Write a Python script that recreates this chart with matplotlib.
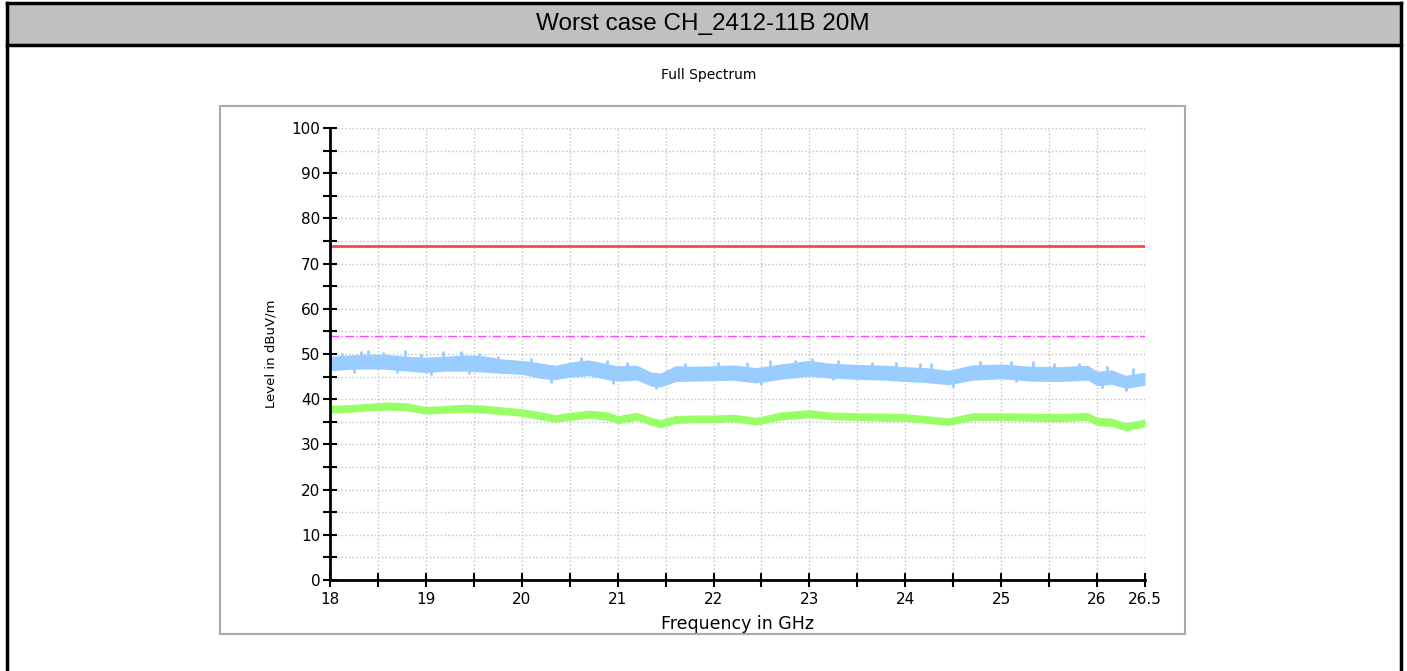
import numpy as np
import matplotlib
matplotlib.use("Agg")
import matplotlib.pyplot as plt
from matplotlib.patches import Rectangle
from matplotlib.lines import Line2D
from matplotlib.ticker import MultipleLocator, FixedLocator

# envelope knots (GHz)
freq = [18.0, 18.2, 18.4, 18.6, 18.8, 19.0, 19.2, 19.4, 19.6, 19.8, 20.0, 20.2,
        20.35, 20.5, 20.7, 20.9, 21.0, 21.2, 21.35, 21.45, 21.6, 21.8, 22.0, 22.2,
        22.45, 22.7, 23.0, 23.2, 23.5, 23.8, 24.0, 24.2, 24.45, 24.7, 25.0, 25.3,
        25.6, 25.9, 26.0, 26.15, 26.3, 26.5]

# peak trace (light blue band), dBuV/m
peak_hi = [49.5, 49.8, 50.0, 49.9, 49.5, 49.3, 49.5, 49.8, 49.6, 48.9, 48.6, 48.0,
           47.5, 48.2, 48.7, 47.8, 47.4, 47.5, 46.0, 45.8, 47.4, 47.3, 47.4, 47.6,
           47.0, 47.8, 48.6, 48.0, 47.7, 47.5, 47.2, 47.0, 46.4, 47.6, 47.8, 47.3,
           47.2, 47.5, 46.2, 46.5, 45.3, 46.0]
peak_lo = [46.3, 46.6, 46.7, 46.6, 46.2, 45.9, 46.2, 46.2, 46.0, 45.7, 45.5, 44.6,
           44.3, 44.9, 45.2, 44.3, 44.0, 44.2, 42.9, 42.7, 43.9, 44.0, 44.1, 44.2,
           43.6, 44.4, 45.1, 44.7, 44.4, 44.2, 43.9, 43.7, 43.2, 44.2, 44.5, 44.0,
           43.9, 44.2, 43.0, 43.3, 42.4, 43.1]

# visible noise spikes along the edges of the peak trace
spike_freq = [18.12, 18.32, 18.40, 18.55, 18.78, 18.95, 19.18, 19.37, 19.55, 19.75,
              20.1, 20.62, 20.89, 21.1, 21.7, 22.05, 22.35, 22.59, 22.85, 23.03,
              23.3, 23.65, 23.9, 24.15, 24.27, 24.78, 25.1, 25.33, 25.55, 25.81,
              26.1, 26.38]
spike_top = [50.2, 50.6, 50.9, 50.5, 50.9, 50.1, 50.6, 50.6, 50.3, 49.6,
             49.2, 49.4, 48.7, 48.3, 48.0, 48.2, 48.3, 48.7, 48.6, 49.1,
             48.6, 48.3, 48.2, 48.1, 48.1, 48.4, 48.4, 48.4, 48.0, 48.1,
             47.3, 46.8]
dip_freq = [18.25, 18.7, 19.05, 19.45, 20.3, 20.95, 21.4, 22.5, 23.25, 24.5, 25.15, 26.05, 26.3]
dip_bottom = [45.8, 45.9, 45.4, 45.6, 43.6, 43.4, 42.3, 43.1, 44.2, 42.8, 43.8, 42.4, 41.9]

# average trace (green band)
avg_hi = [38.7, 38.8, 39.1, 39.4, 39.2, 38.4, 38.6, 38.9, 38.7, 38.3, 37.9, 37.2,
          36.6, 37.1, 37.6, 37.2, 36.4, 37.1, 36.0, 35.5, 36.4, 36.5, 36.5, 36.7,
          36.0, 37.2, 37.7, 37.2, 37.0, 36.9, 36.8, 36.4, 35.9, 37.0, 37.0, 36.9,
          36.8, 37.1, 36.0, 35.8, 34.8, 35.6]
avg_lo = [36.9, 37.1, 37.4, 37.6, 37.4, 36.7, 36.9, 37.1, 36.9, 36.6, 36.2, 35.4,
          34.9, 35.3, 35.8, 35.3, 34.6, 35.3, 34.2, 33.7, 34.6, 34.8, 34.8, 35.0,
          34.3, 35.4, 35.9, 35.5, 35.3, 35.1, 35.1, 34.7, 34.2, 35.3, 35.3, 35.1,
          35.0, 35.3, 34.1, 34.0, 33.0, 33.9]

peak_limit = 74
avg_limit = 54

x_major = [18, 19, 20, 21, 22, 23, 24, 25, 26, 26.5]
x_labels = ["18", "19", "20", "21", "22", "23", "24", "25", "26", "26.5"]

W, H = 1407, 671
fig = plt.figure(figsize=(W / 100, H / 100), dpi=100)


def px_rect(x0, y0, x1, y1, **kw):
    # rectangle in pixel coords (top-left origin)
    return Rectangle((x0 / W, 1 - y1 / H), (x1 - x0) / W, (y1 - y0) / H,
                     transform=fig.transFigure, **kw)


def px_line(xs, ys, **kw):
    return Line2D([x / W for x in xs], [1 - y / H for y in ys],
                  transform=fig.transFigure, **kw)


# title band and outer frame
fig.add_artist(px_rect(7, 3, 1401, 45, facecolor="#c0c0c0", edgecolor="none"))
fig.add_artist(px_line([7, 1401], [3, 3], color="black", lw=2.5))
fig.add_artist(px_line([7, 1401], [45, 45], color="black", lw=2.5))
fig.add_artist(px_line([7, 7], [3, H], color="black", lw=2.5))
fig.add_artist(px_line([1401, 1401], [3, H], color="black", lw=2.5))
fig.text(703 / W, 1 - 24 / H, "Worst case CH_2412-11B 20M", ha="center", va="center",
         fontsize=17.5, family="Liberation Sans")

# chart panel
fig.add_artist(px_rect(220, 106, 1185, 634, facecolor="none", edgecolor="#aaaaaa", lw=1.5))
fig.text(709 / W, 1 - 75 / H, "Full Spectrum", ha="center", va="center", fontsize=10)

ax = fig.add_axes([330 / W, 1 - 580 / H, 815 / W, 452 / H])
ax.fill_between(freq, peak_lo, peak_hi, color="#99ccff", lw=0, zorder=3)
# spikes start inside the band so they stay attached to it
ax.vlines(spike_freq, [h - 3 for h in spike_top], spike_top, color="#99ccff", lw=2, zorder=3)
ax.vlines(dip_freq, dip_bottom, [b + 3 for b in dip_bottom], color="#99ccff", lw=2, zorder=3)
ax.fill_between(freq, avg_lo, avg_hi, color="#99ff66", lw=0, zorder=3)
ax.axhline(peak_limit, color="#ff4444", lw=2, zorder=4)
ax.axhline(avg_limit, color="#ff44ff", lw=1, ls="-.", zorder=4)

ax.set_xlim(18, 26.5)
ax.set_ylim(0, 100)
ax.xaxis.set_major_locator(FixedLocator(x_major))
ax.set_xticklabels(x_labels)
ax.xaxis.set_minor_locator(FixedLocator(np.arange(18.5, 26.0, 1.0)))
ax.yaxis.set_major_locator(MultipleLocator(10))
ax.yaxis.set_minor_locator(MultipleLocator(5))
ax.grid(True, which="both", color="#c0c0c0", ls=":", lw=1)
ax.set_axisbelow(True)

for s in ["top", "right"]:
    ax.spines[s].set_visible(False)
for s in ["left", "bottom"]:
    ax.spines[s].set_linewidth(2)
    ax.spines[s].set_zorder(5)
ax.tick_params(which="both", direction="inout", length=10, width=1.5, labelsize=11)
ax.tick_params(axis="y", pad=2)

ax.set_xlabel("Frequency in GHz", fontsize=12.5, labelpad=6)
ax.set_ylabel("Level in dBuV/m", fontsize=9.5, labelpad=10)

fig.savefig("out.png", dpi=100)
